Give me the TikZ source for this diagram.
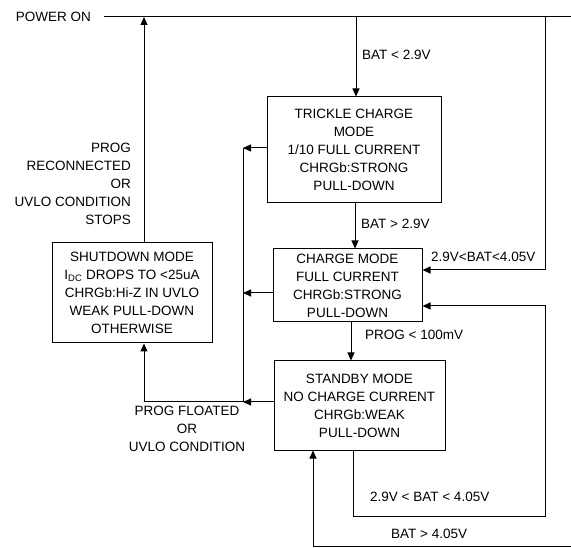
\documentclass[tikz,border=0pt]{standalone}
\usepackage{fontspec}
\setmainfont{Liberation Sans}
\usetikzlibrary{arrows.meta,calc}
\tikzset{
  mode/.style={draw,line width=1pt,align=center,inner sep=0pt,
    font=\fontsize{13.5pt}{18pt}\selectfont},
  lbl/.style={inner sep=0pt,font=\fontsize{13.5pt}{18pt}\selectfont},
  wire/.style={line width=1pt},
  arr/.style={line width=1pt,-{Triangle[length=8pt,width=7pt]}}
}
\begin{document}
\begin{tikzpicture}[x=1pt,y=-1pt]
\useasboundingbox (0,0) rectangle (571,548);

% boxes
\node[mode,minimum width=174pt,minimum height=106pt] (tc) at (354,150)
  {TRICKLE CHARGE\\MODE\\1/10 FULL CURRENT\\CHRGb:STRONG\\PULL-DOWN};
\node[mode,minimum width=149pt,minimum height=73pt] (cm) at (347.5,285.5)
  {CHARGE MODE\\FULL CURRENT\\CHRGb:STRONG\\PULL-DOWN};
\node[mode,minimum width=171pt,minimum height=89pt] (sb) at (359.5,405.5)
  {STANDBY MODE\\NO CHARGE CURRENT\\CHRGb:WEAK\\PULL-DOWN};
\node[mode,minimum width=160pt,minimum height=100pt] (sd) at (132,293)
  {SHUTDOWN MODE\\I\textsubscript{DC} DROPS TO {<}25uA\\CHRGb:Hi-Z IN UVLO\\WEAK PULL-DOWN\\OTHERWISE};

% helper coordinates
\coordinate (pwr) at (104,17);
\coordinate (pwrE) at (571,17);
\coordinate (tx) at (356,17);
\coordinate (busT) at (243,148);
\coordinate (busB) at (243,402);
\coordinate (sdx) at (144,0);
\coordinate (rT) at (545,17);
\coordinate (rA) at (545,270);
\coordinate (sbx) at (353,0);
\coordinate (lpB) at (353,516);
\coordinate (lpR) at (545,516);
\coordinate (lpT) at (545,306);
\coordinate (btR) at (571,546);
\coordinate (btL) at (313,546);

% POWER ON line
\node[lbl,anchor=east] (pon) at (91,17) {POWER ON};
\draw[wire] (pwr) -- (pwrE);

% main flow
\draw[arr] (tx) -- (tx |- tc.north);
\draw[arr] (tc.south -| 355,0) -- (cm.north -| 355,0);
\draw[arr] (cm.south -| 351,0) -- (sb.north -| 351,0);

% to bus
\draw[arr] (tc.west |- busT) -- (busT);
\draw[arr] (cm.west |- 0,293) -- (243,293);
\draw[arr] (sb.west |- busB) -- (busB);
\draw[wire] (busT) -- (busB);
\draw[arr] (busB) -| (sd.south -| sdx);

% shutdown back to power on
\draw[arr] (sd.north -| sdx) -- (sdx |- pwr);

% right loops
\draw[arr] (rT) -- (rA) -- (cm.east |- rA);
\draw[arr] (sb.south -| sbx) -- (lpB) -- (lpR) -- (lpT) -- (cm.east |- lpT);
\draw[arr] (btR) -- (btL) -- (sb.south -| btL);

% labels
\node[lbl,anchor=west] (l1) at (362,55) {BAT < 2.9V};
\node[lbl,anchor=west] (l2) at (361,224) {BAT > 2.9V};
\node[lbl,anchor=west] (l3) at (431,257) {2.9V<BAT<4.05V};
\node[lbl,anchor=west] (l4) at (365,335) {PROG < 100mV};
\node[lbl,anchor=west] (l5) at (370,497) {2.9V < BAT < 4.05V};
\node[lbl,anchor=west] (l6) at (391,534) {BAT > 4.05V};
\node[lbl,anchor=east,align=right] (l7) at (131,184)
  {PROG\\RECONNECTED\\OR\\UVLO CONDITION\\STOPS};
\node[lbl,align=center] (l8) at (187,429)
  {PROG FLOATED\\OR\\UVLO CONDITION};
\end{tikzpicture}
\end{document}
